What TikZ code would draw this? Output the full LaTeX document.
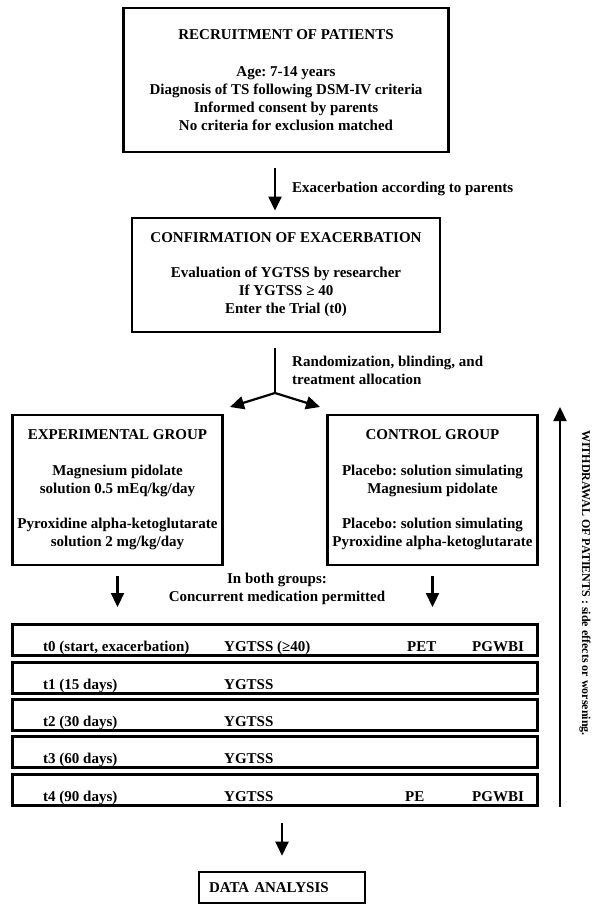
\documentclass[tikz,border=0pt]{standalone}
\usepackage{fontspec}
\setmainfont{Liberation Serif}
\usetikzlibrary{arrows.meta}
\frenchspacing

\begin{document}
\begin{tikzpicture}[x=1pt, y=-1pt,
  every node/.style = {font=\bfseries\fontsize{15}{18}\selectfont, inner sep=0pt},
  box/.style = {draw, line width=2.8pt, align=center},
  group/.style = {draw, line width=2.4pt, align=center,
    minimum width=210pt, minimum height=150pt},
  row/.style = {draw, line width=3pt, minimum width=525pt, minimum height=31pt},
  cell/.style = {anchor=base west},
  arr/.style = {line width=2.2pt, -{Triangle[width=13pt,length=14pt]}}]
  \useasboundingbox (0,0) rectangle (600,917);

  % enrolment
  \node[box, minimum width=325pt, minimum height=144pt] (recruit) at (286,80)
    {RECRUITMENT OF PATIENTS\\[19pt]
     Age: 7-14 years\\
     Diagnosis of TS following DSM-IV criteria\\
     Informed consent by parents\\
     No criteria for exclusion matched};
  \node[box, minimum width=308pt, minimum height=114pt] (confirm) at (286,275)
    {CONFIRMATION OF EXACERBATION\\[17pt]
     Evaluation of YGTSS by researcher\\
     If YGTSS ≥ 40\\
     Enter the Trial (t0)};
  \node[anchor=west] (exlabel) at (292,189) {Exacerbation according to parents};
  \node[anchor=west, align=left] (randlabel) at (292,370)
    {Randomization, blinding, and\\ treatment allocation};

  % groups
  \node[group] (exp) at (117.5,490)
    {EXPERIMENTAL GROUP\\[18pt]
     Magnesium pidolate\\
     solution 0.5 mEq/kg/day\\[17pt]
     Pyroxidine alpha-ketoglutarate\\
     solution 2 mg/kg/day};
  \node[group] (ctl) at (432.5,490)
    {CONTROL GROUP\\[18pt]
     Placebo: solution simulating\\
     Magnesium pidolate\\[17pt]
     Placebo: solution simulating\\
     Pyroxidine alpha-ketoglutarate};
  \node[align=center] (bothlabel) at (277,589)
    {In both groups:\\ Concurrent medication permitted};

  % visits
  \node[row] (r0) at (274.5,640) {};
  \node[row] (r1) at (274.5,677.5) {};
  \node[row] (r2) at (274.5,715) {};
  \node[row] (r3) at (274.5,752) {};
  \node[row] (r4) at (274.5,789.5) {};
  \node[cell] (t0time) at (43,651.5) {t0 (start, exacerbation)};
  \node[cell] (t0ygtss) at (224,651.5) {YGTSS (≥40)};
  \node[cell] (t0pet) at (407,651.5) {PET};
  \node[cell] (t0pgwbi) at (472,651.5) {PGWBI};
  \node[cell] (t1time) at (43,689) {t1 (15 days)};
  \node[cell] (t1ygtss) at (224,689) {YGTSS};
  \node[cell] (t2time) at (43,726.5) {t2 (30 days)};
  \node[cell] (t2ygtss) at (224,726.5) {YGTSS};
  \node[cell] (t3time) at (43,763.5) {t3 (60 days)};
  \node[cell] (t3ygtss) at (224,763.5) {YGTSS};
  \node[cell] (t4time) at (43,801) {t4 (90 days)};
  \node[cell] (t4ygtss) at (224,801) {YGTSS};
  \node[cell] (t4pe) at (405,801) {PE};
  \node[cell] (t4pgwbi) at (472,801) {PGWBI};

  \node[box, line width=2.6pt, minimum width=166pt, minimum height=31pt,
    text width=146pt, align=left] (analysis) at (282,887.5) {DATA ANALYSIS};

  \node[rotate=-90, font=\bfseries\fontsize{12}{14}\selectfont] (withdraw) at (585,583)
    {WITHDRAWAL OF PATIENTS : side effects or worsening.};

  % arrows
  \coordinate (split) at (275,393);
  \coordinate (toexp) at (230,407);
  \coordinate (toctl) at (320,407);
  \coordinate (wtop) at (560,407);
  \draw[arr, shorten <=15pt, shorten >=6pt] (recruit.south -| split) -- (confirm.north -| split);
  \draw[line width=2.2pt, shorten <=15pt] (confirm.south -| split) -- (split);
  \draw[arr] (split) -- (toexp);
  \draw[arr] (split) -- (toctl);
  \draw[arr, shorten <=10pt, shorten >=16pt] (exp.south) -- (exp.south |- r0.north);
  \draw[arr, shorten <=10pt, shorten >=16pt] (ctl.south) -- (ctl.south |- r0.north);
  \draw[arr, shorten <=16pt, shorten >=15pt] (r4.south -| analysis.north) -- (analysis.north);
  \draw[arr] (r4.south -| wtop) -- (wtop);
\end{tikzpicture}
\end{document}
